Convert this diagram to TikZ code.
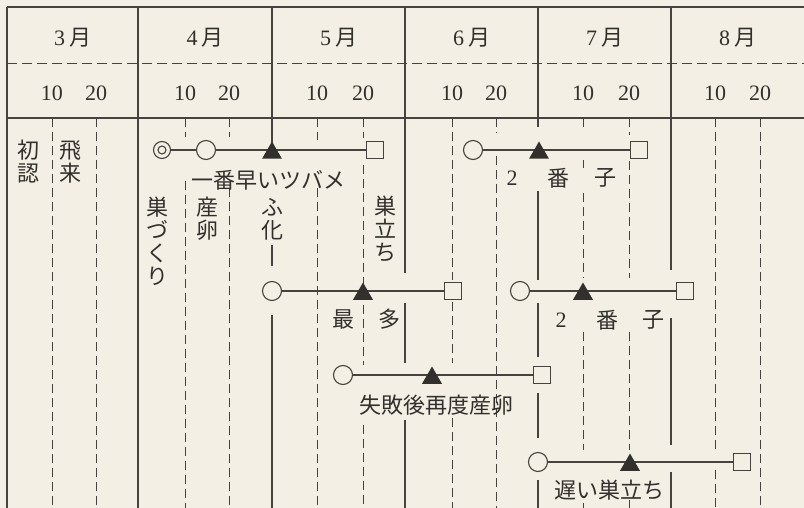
\documentclass[tikz,border=0pt]{standalone}
\usepackage{fontspec}
\setmainfont{Liberation Serif}
\newfontfamily\jp{Noto Sans CJK JP}
\usetikzlibrary{shapes.geometric}
\definecolor{paper}{RGB}{243,239,228}
\definecolor{ink}{RGB}{70,67,62}
\definecolor{txt}{RGB}{50,48,45}
\pgfdeclarelayer{paper}
\pgfdeclarelayer{background}
\pgfsetlayers{paper,background,main}
\tikzset{
  gsolid/.style={draw=ink, line width=1.1pt},
  gdash/.style={draw=ink, line width=1.0pt, dash pattern=on 9pt off 5pt},
  hdash/.style={draw=ink, line width=1.0pt, dash pattern=on 10pt off 5pt},
  rowline/.style={draw=ink, line width=1.2pt},
  dcirc/.style={circle, draw=ink, line width=1.1pt, fill=paper, minimum size=17pt, inner sep=0pt,
    path picture={\draw[ink, line width=1.1pt] (path picture bounding box.center) circle (4pt);}},
  ocirc/.style={circle, draw=ink, line width=1.1pt, fill=paper, minimum size=19pt, inner sep=0pt},
  tri/.style={regular polygon, regular polygon sides=3, fill=txt, draw=none, minimum size=23pt, inner sep=0pt, yshift=-3pt},
  sqbox/.style={rectangle, draw=ink, line width=1.1pt, fill=paper, minimum size=17pt, inner sep=0pt},
  jtxt/.style={font=\jp\fontsize{22}{22}\selectfont, text=txt, inner sep=0pt},
  vtxt/.style={font=\jp\fontsize{22}{23}\selectfont, text=txt, align=center, inner sep=0pt},
  numtxt/.style={font=\fontsize{22}{22}\selectfont, text=txt, inner sep=0pt},
}
\begin{document}
\begin{tikzpicture}[x=1pt,y=-1pt]
\useasboundingbox (0,0) rectangle (804,508);
\begin{pgfonlayer}{paper}
  \fill[paper] (0,0) rectangle (804,508);
\end{pgfonlayer}

% header labels
\foreach \m/\cx in {3/72.5,4/205,5/338.5,6/471.5,7/604.5,8/737.5}
  \node[numtxt] (mon\m) at (\cx,38) {\m\hspace{4pt}{\jp 月}};
\foreach \n/\dx in {a/52,b/185,c/317,d/452,e/583,f/715}
  \node[numtxt] (ten\n) at (\dx,93) {10};
\foreach \n/\dx in {a/96,b/229,c/363,d/496,e/629,f/760}
  \node[numtxt] (twe\n) at (\dx,93) {20};

% vertical labels
\node[vtxt] (v1) at (28,162) {初\\認};
\node[vtxt] (v2) at (70,162) {飛\\来};
\node[vtxt] (v3) at (157,241) {巣\\づ\\く\\り};
\node[vtxt] (v4) at (207,219) {産\\卵};
\node[vtxt] (v5) at (272,219) {ふ\\化};
\node[vtxt] (v6) at (385,229) {巣\\立\\ち};

% row 1
\node[dcirc] (a1) at (162,150) {};
\node[ocirc] (a2) at (206,150) {};
\node[tri]   (a3) at (272,150) {};
\node[sqbox] (a4) at (375,150) {};
\node[jtxt]  (la) at (268,180) {一番早いツバメ};
% row 2
\node[ocirc] (b1) at (272,291) {};
\node[tri]   (b2) at (363,291) {};
\node[sqbox] (b3) at (453,291) {};
\node[jtxt]  (lb1) at (343,319) {最};
\node[jtxt]  (lb2) at (389,319) {多};
% row 3
\node[ocirc] (c1) at (343,375) {};
\node[tri]   (c2) at (432,375) {};
\node[sqbox] (c3) at (542,375) {};
\node[jtxt]  (lc) at (436,405) {失敗後再度産卵};
% row 4
\node[ocirc] (d1) at (538,462) {};
\node[tri]   (d2) at (630,462) {};
\node[sqbox] (d3) at (742,462) {};
\node[jtxt]  (ld) at (609,490) {遅い巣立ち};
% row 5
\node[ocirc] (e1) at (473,150) {};
\node[tri]   (e2) at (539,150) {};
\node[sqbox] (e3) at (639,150) {};
\node[numtxt] (le1) at (512,178) {2};
\node[jtxt]  (le2) at (558,178) {番};
\node[jtxt]  (le3) at (605,178) {子};
% row 6
\node[ocirc] (f1) at (520,291) {};
\node[tri]   (f2) at (583,291) {};
\node[sqbox] (f3) at (685,291) {};
\node[numtxt] (lf1) at (561,320) {2};
\node[jtxt]  (lf2) at (607,320) {番};
\node[jtxt]  (lf3) at (653,320) {子};

\begin{pgfonlayer}{background}
  % header frame
  \draw[gsolid] (7,7) -- (804,7);
  \draw[hdash] (7,64) -- (804,64);
  \draw[gsolid] (7,118) -- (804,118);
  % month lines
  \foreach \x/\a/\b in {7/7/508,138/7/508,272/7/150,272/245/266,272/315/508,
      405/7/273,405/303/363,405/420/508,
      538/7/127,538/191/280,538/303/357,538/393/438,538/480/508,
      671/7/270,671/318/445,671/472/508}
    \draw[gsolid] (\x,\a) -- (\x,\b);
  % day lines
  \foreach \x/\a/\b in {52/118/508,96/118/508,185/118/137,185/181/508,229/118/137,229/188/508,
      317/118/140,317/188/508,363/118/138,363/165/365,363/425/508,
      452/118/280,452/302/363,452/418/508,496/118/133,496/156/508,
      583/118/128,583/160/168,583/193/278,583/332/450,583/503/508,
      629/118/135,629/161/278,629/332/450,629/500/508,
      715/118/450,715/470/508,760/118/508}
    \draw[gdash] (\x,\a) -- (\x,\b);
  % connectors
  \draw[rowline] (a1) -- (a4);
  \draw[rowline] (b1) -- (b3);
  \draw[rowline] (c1) -- (c3);
  \draw[rowline] (d1) -- (d3);
  \draw[rowline] (e1) -- (e3);
  \draw[rowline] (f1) -- (f3);
\end{pgfonlayer}
\end{tikzpicture}
\end{document}
